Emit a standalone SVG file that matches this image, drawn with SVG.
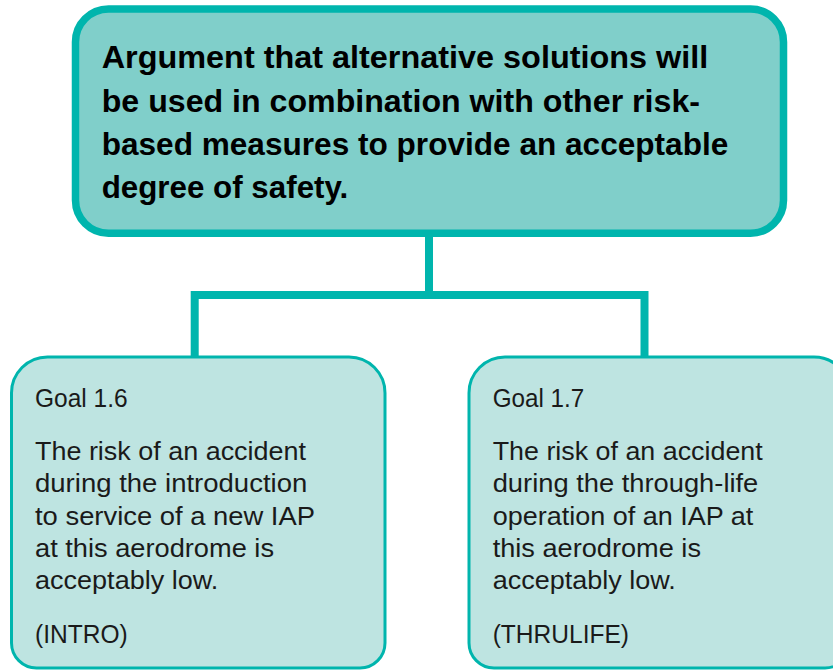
<svg xmlns="http://www.w3.org/2000/svg" width="833" height="670" viewBox="0 0 833 670">
  <style>
    .bg { fill: #ffffff; }
    .main-box { fill: #80cfca; stroke: #00b5ad; stroke-width: 7.5; }
    .goal-box { fill: #bee4e1; stroke: #00b5ad; stroke-width: 3; }
    .link { fill: none; stroke: #00b5ad; stroke-width: 8; stroke-linejoin: miter; stroke-linecap: butt; }
    .main-text { font-family: "Liberation Sans", Arial, sans-serif; font-weight: bold; font-size: 30.5px; fill: #000000; }
    .goal-text { font-family: "Liberation Sans", Arial, sans-serif; font-size: 26.5px; fill: #1a1a1a; }
  </style>

  <rect class="bg" x="0" y="0" width="833" height="670"/>

  <!-- connectors: trunk from the argument down to the bar, then two drops to the goals -->
  <g id="connectors">
    <path class="link" d="M429 237 V295"/>
    <path class="link" d="M194.7 357 V295 H644.5 V357"/>
  </g>

  <!-- top-level argument -->
  <g id="argument">
    <rect class="main-box" x="75.5" y="9" width="708" height="224.3" rx="33" ry="33"/>
    <text class="main-text" x="101.7" y="68.3" textLength="606.6" lengthAdjust="spacingAndGlyphs">Argument that alternative solutions will</text>
    <text class="main-text" x="101.7" y="111.7" textLength="598.3" lengthAdjust="spacingAndGlyphs">be used in combination with other risk-</text>
    <text class="main-text" x="101.7" y="155" textLength="626.6" lengthAdjust="spacingAndGlyphs">based measures to provide an acceptable</text>
    <text class="main-text" x="101.7" y="198" textLength="246.6" lengthAdjust="spacingAndGlyphs">degree of safety.</text>
  </g>

  <!-- Goal 1.6 -->
  <g id="goal-1-6">
    <path class="goal-box" d="M47.5 357 H349 A36 36 0 0 1 385 393 V643 A25 25 0 0 1 360 668 H36.5 A25 25 0 0 1 11.5 643 V393 A36 36 0 0 1 47.5 357 Z"/>
    <text class="goal-text" x="35" y="406.7" textLength="92.7" lengthAdjust="spacingAndGlyphs">Goal 1.6</text>
    <text class="goal-text" x="35" y="460" textLength="271" lengthAdjust="spacingAndGlyphs">The risk of an accident</text>
    <text class="goal-text" x="35" y="492.3" textLength="272.3" lengthAdjust="spacingAndGlyphs">during the introduction</text>
    <text class="goal-text" x="35" y="524.6" textLength="280" lengthAdjust="spacingAndGlyphs">to service of a new IAP</text>
    <text class="goal-text" x="35" y="557" textLength="239" lengthAdjust="spacingAndGlyphs">at this aerodrome is</text>
    <text class="goal-text" x="35" y="589.3" textLength="183.3" lengthAdjust="spacingAndGlyphs">acceptably low.</text>
    <text class="goal-text" x="35" y="643.3" textLength="92.7" lengthAdjust="spacingAndGlyphs">(INTRO)</text>
  </g>

  <!-- Goal 1.7 -->
  <g id="goal-1-7">
    <path class="goal-box" d="M505 357 H814 A36 36 0 0 1 850 393 V643 A25 25 0 0 1 825 668 H494 A25 25 0 0 1 469 643 V393 A36 36 0 0 1 505 357 Z"/>
    <text class="goal-text" x="492.7" y="406.7" textLength="91.6" lengthAdjust="spacingAndGlyphs">Goal 1.7</text>
    <text class="goal-text" x="492.7" y="460" textLength="270" lengthAdjust="spacingAndGlyphs">The risk of an accident</text>
    <text class="goal-text" x="492.7" y="492.3" textLength="265.6" lengthAdjust="spacingAndGlyphs">during the through-life</text>
    <text class="goal-text" x="492.7" y="524.6" textLength="260.6" lengthAdjust="spacingAndGlyphs">operation of an IAP at</text>
    <text class="goal-text" x="492.7" y="557" textLength="208.3" lengthAdjust="spacingAndGlyphs">this aerodrome is</text>
    <text class="goal-text" x="492.7" y="589.3" textLength="183" lengthAdjust="spacingAndGlyphs">acceptably low.</text>
    <text class="goal-text" x="492.7" y="643.3" textLength="136.3" lengthAdjust="spacingAndGlyphs">(THRULIFE)</text>
  </g>
</svg>
